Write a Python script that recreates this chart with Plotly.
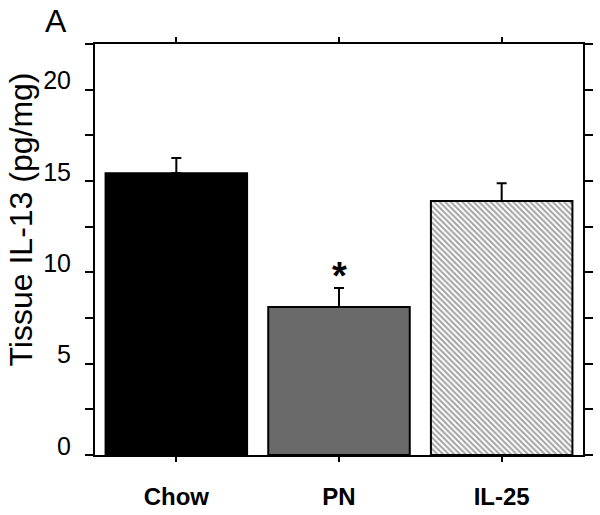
import plotly.graph_objects as go

categories = ["Chow", "PN", "IL-25"]
values = [15.43, 8.10, 13.90]
errors = [0.83, 1.04, 0.98]
y_ticks = [0, 5, 10, 15, 20]
y_tick_labels = ["0", "5", "10", "15", "20"]
panel_label = "A"
y_title = "Tissue IL-13 (pg/mg)"
sig_marker = "*"
sig_category = "PN"
sig_value = 10.13

FONT = "Liberation Sans, Arial, sans-serif"

fig = go.Figure()
fig.add_trace(go.Bar(
    x=categories,
    y=values,
    width=0.87,
    marker=dict(
        color=["#000000", "#6a6a6a", "#ffffff"],
        line=dict(color="#000000", width=2),
        pattern=dict(
            shape=["", "", "\\"],
            fgcolor="#808080",
            bgcolor="#ffffff",
            size=4,
            solidity=0.5,
        ),
    ),
    error_y=dict(
        type="data",
        symmetric=False,
        array=errors,
        arrayminus=[0, 0, 0],
        color="#000000",
        thickness=2,
        width=5,
    ),
    showlegend=False,
))

fig.add_annotation(
    x=sig_category, y=sig_value, xref="x", yref="y",
    text=sig_marker, showarrow=False,
    font=dict(family=FONT, size=38, color="#000000", weight="bold"),
    xanchor="center", yanchor="middle", yshift=-6,
)
fig.add_annotation(
    x=0, y=1, xref="paper", yref="paper",
    text=panel_label, showarrow=False,
    font=dict(family=FONT, size=32, color="#000000"),
    xanchor="center", yanchor="middle", xshift=-39, yshift=23,
)
fig.add_annotation(
    x=0, y=0.5, xref="paper", yref="paper",
    text=y_title, showarrow=False, textangle=-90,
    font=dict(family=FONT, size=32, color="#000000"),
    xanchor="center", yanchor="middle", xshift=-75, yshift=30,
)

fig.update_xaxes(
    range=[-0.5, 2.5], automargin=False,
    showline=True, linewidth=2, linecolor="#000000",
    mirror="ticks", ticks="outside", ticklen=5, tickwidth=2, tickcolor="#000000",
    showgrid=False, zeroline=False,
    tickfont=dict(family=FONT, size=24, color="#000000", weight="bold"),
    ticklabelstandoff=14,
)
fig.update_yaxes(
    range=[0, 22.5], automargin=False,
    tickvals=y_ticks, ticktext=y_tick_labels,
    showline=True, linewidth=2, linecolor="#000000",
    mirror="ticks", ticks="outside", ticklen=8, tickwidth=2, tickcolor="#000000",
    minor=dict(dtick=2.5, tick0=0, ticks="outside", ticklen=8, tickwidth=2, tickcolor="#000000", showgrid=False),
    showgrid=False, zeroline=False,
    tickfont=dict(family=FONT, size=25, color="#000000"),
    ticklabelshift=-9, ticklabelstandoff=9,
)
fig.update_layout(
    width=600, height=515,
    margin=dict(l=95, r=17, t=44, b=60),
    paper_bgcolor="#ffffff", plot_bgcolor="#ffffff",
    bargap=0.1,
)
fig.write_html(
    "out.html",
    config={"displayModeBar": False},
    post_script="document.body.style.margin='0';document.body.style.overflow='hidden';",
)
